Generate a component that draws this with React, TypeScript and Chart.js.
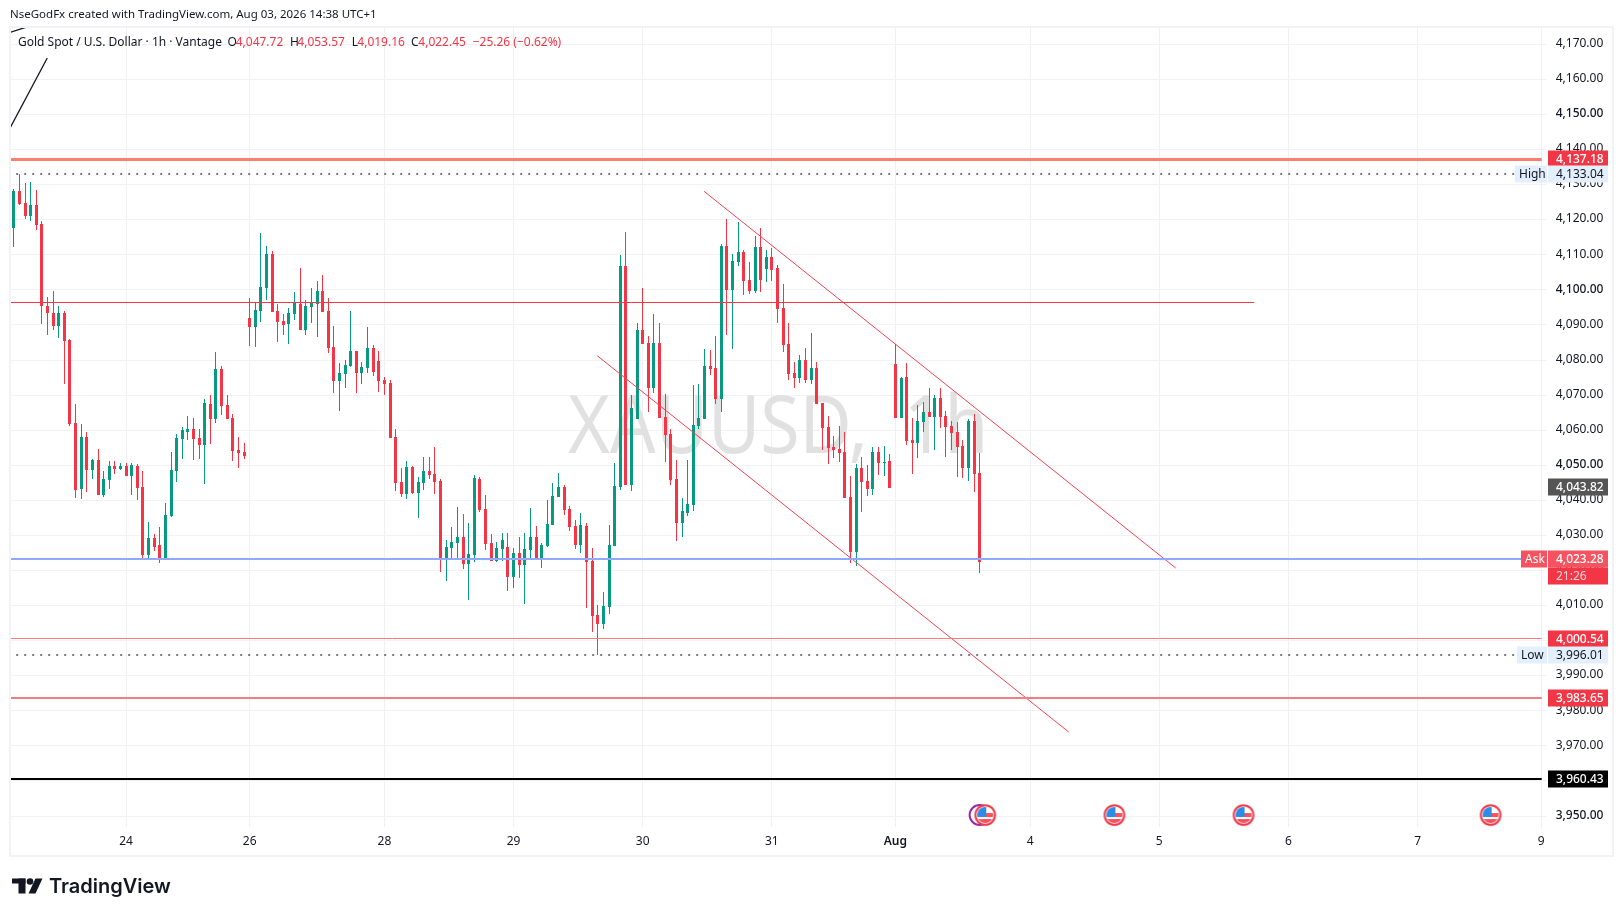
import React, { useEffect, useRef } from "react";
import { Chart, registerables } from "chart.js";

Chart.register(...registerables);

const opens = [
  4117.6,4128.2,4124.8,4121.1,4124.2,4118.8,4095.4,4093.4,4089.7,4093.4,
  4085.7,4062,4043.2,4058.1,4048.6,4051.5,4041.5,4045.8,4049.8,4048.9,
  4049.8,4047,4049.8,4043.8,4024.4,4029.3,4027.3,4023,4035.5,4048.4,
  4057.5,4059.5,4060.3,4057.8,4055.8,4067.5,4063.2,4077.4,4067.2,4063.5,
  4054.3,4053.8,4092,4089.4,4094,4100.5,4110.2,4094,4091.1,4090.3,
  4093.1,4096,4088.6,4095.1,4096,4099.7,4094,4083.7,4074,4076,
  4078.3,4082.6,4076.3,4077.7,4083.4,4079.7,4074.3,4073.4,4058.1,4045.2,
  4041.8,4049.5,4042.1,4044.9,4048.4,4047.5,4045.5,4023,4026.4,4027.8,
  4029.5,4021.8,4024.4,4046.1,4037.5,4027.8,4022.7,4026.1,4026.7,4018.1,
  4025,4021.6,4025.8,4029.5,4023.3,4027,4033,4040.9,4043.8,4037.5,
  4032.7,4027.3,4032.7,4022.7,4007.3,4004.7,4009.6,4027,4043.8,4106.8,
  4044.4,4063.2,4088.6,4084.8,4072,4084.8,4063.7,4058.9,4046.1,4033.5,
  4036.4,4038.7,4061.2,4063.2,4078.3,4077.7,4068.9,4112.5,4100,4108,
  4110.8,4102.8,4099.7,4112.2,4106,4109.4,4106.2,4094.8,4084.6,4076.3,
  4074.9,4080,4074.3,4077.7,4067.8,4060.9,4055.2,4054.6,4053.8,4041,
  4025.3,4049.2,4045.5,4043.2,4053.8,4050.7,4051.2,4078.9,4063.5,4075.2,
  4057.2,4056.4,4062.3,4065.2,4063.8,4069.2,4064,4061.2,4059.5,4055.5,
  4049.2,4062.6,4047.72,
];
const highs = [
  4128.7,4133.04,4130.5,4130.8,4128.5,4119.6,4098,4099.7,4095.4,4094,
  4086,4067.5,4061.8,4059.5,4051.8,4054.6,4048.4,4051.2,4051.2,4050.6,
  4050.6,4050.6,4050.3,4048.4,4033.8,4030.4,4032.4,4039.2,4053.8,4058.9,
  4060.9,4064,4063.5,4060.3,4068.9,4070,4082.3,4078.3,4070,4064.6,
  4058.1,4056.3,4097.7,4096.5,4116.2,4112.5,4111,4096,4093.1,4094.8,
  4099.4,4106.2,4097.1,4100.5,4102.5,4104.2,4097.7,4089.7,4079.1,4080,
  4094,4082.6,4079.4,4089.4,4084.3,4082.6,4075.2,4074.3,4060.3,4049.2,
  4051.2,4049.8,4046.6,4052.4,4052.4,4055.2,4046.1,4028.7,4032.4,4038.1,
  4036.1,4033.5,4047.2,4046.7,4041.5,4030.4,4028.1,4030.7,4030.7,4026.4,
  4029.5,4030.7,4037.8,4032.7,4027.8,4040.1,4044.9,4047.8,4044.4,4038.4,
  4034.4,4036.4,4033.5,4026.4,4010.2,4013.9,4033,4050.6,4109.9,4116.5,
  4070,4090.5,4100.5,4086.8,4093.1,4090.5,4070.3,4060.3,4051.5,4040.7,
  4051.5,4072.9,4073.2,4083.1,4082.8,4086.8,4113,4120.2,4110.2,4119.4,
  4111.4,4108,4115.4,4117.6,4111.4,4112,4107.1,4101.7,4090.6,4079.4,
  4081.4,4083.4,4087.7,4079.4,4067.8,4064,4058.3,4061.2,4059.5,4046.9,
  4050.4,4052.4,4050.1,4055.2,4055.2,4055.5,4053.2,4084.6,4075.2,4079.2,
  4063.5,4067.2,4068.1,4072,4070,4072,4065.5,4062.6,4062.3,4057.2,
  4063.2,4064.6,4053.57,
];
const lows = [
  4112.2,4124.2,4120.2,4119.6,4117.1,4090.3,4087.1,4088.6,4086.3,4073.2,
  4061.2,4040.7,4040.4,4042.4,4046.1,4041.5,4041,4043.2,4047.5,4048.6,
  4047,4041.5,4040.1,4023.3,4023.3,4025.6,4022.1,4023,4035.2,4045.2,
  4051.8,4057.2,4051.5,4051.8,4044.7,4056,4062,4064.3,4063.2,4051.2,
  4049.2,4051.8,4084,4083.7,4090.8,4097.1,4093.7,4085.1,4087.1,4084.6,
  4091.4,4088.6,4087.1,4090.5,4086.6,4093.7,4082,4070.6,4065.5,4072,
  4078,4070.6,4073.2,4076.3,4075.4,4070.9,4070,4057.8,4042.7,4040.9,
  4040.4,4041.8,4035,4043,4046.1,4041.8,4019.6,4017,4023.3,4023,
  4020.4,4011.6,4022.4,4036.7,4025.8,4022.7,4022.4,4022.7,4014.2,4015,
  4017.9,4010.4,4023.3,4023.3,4020.7,4026.7,4033,4040.9,4035.8,4031.2,
  4026.1,4025,4009.3,4002.5,3996.01,4003.3,4007.6,4027,4042.9,4044.4,
  4042.6,4063.2,4084.6,4065.2,4070.6,4063.5,4050.9,4044.4,4028.4,4029.5,
  4035.5,4037,4060.3,4063.2,4075.7,4067.4,4065.2,4087.1,4083.2,4106.8,
  4098.5,4098.8,4099.1,4099.4,4102.2,4102.5,4090.6,4082.3,4074.3,4072,
  4073.5,4073.5,4073.2,4067.5,4054.4,4050.4,4052.1,4050.9,4040.7,4022.1,
  4021.3,4036.7,4041.2,4041.5,4047.2,4046.9,4043.5,4063.5,4063.5,4055.8,
  4047.5,4052.1,4059.5,4063.8,4054.4,4060.6,4052.4,4054.4,4046.7,4046.4,
  4045.5,4042.4,4019.16,
];
const closes = [
  4128.2,4124.5,4121.1,4124.2,4118.5,4095.4,4093.4,4089.7,4093.4,4085.4,
  4061.8,4043,4058.1,4048.6,4051.5,4041.5,4046.1,4049.8,4048.9,4049.8,
  4047,4050.1,4043.5,4024.4,4029.3,4026.7,4023,4035.8,4048.6,4057.8,
  4060,4060.3,4057.5,4055.8,4067.7,4063.2,4077.4,4066.9,4063.2,4054.1,
  4053.5,4052.6,4089.4,4094.3,4100.8,4110.2,4093.7,4090.8,4090,4093.4,
  4096.4,4088.6,4095.4,4096.3,4099.7,4093.7,4083.4,4074,4076.3,4078.6,
  4082.6,4076.3,4078,4083.4,4076.6,4074,4073.2,4057.8,4044.9,4041.8,
  4049.5,4042.1,4045.2,4048.4,4047.2,4045.2,4023.3,4026.7,4028.1,4029.5,
  4021.8,4024.7,4046.4,4037.2,4027.6,4022.7,4026.4,4028.7,4018.1,4025,
  4021.6,4026.1,4029.5,4023.3,4027.3,4033.3,4041.2,4043.8,4037.2,4032.4,
  4027.3,4032.9,4022.4,4007,4004.7,4009.9,4027.3,4044.1,4106.8,4044.4,
  4066.3,4088.6,4084.6,4072,4084.8,4063.5,4058.6,4045.8,4033.5,4036.96,
  4039,4061.5,4063.5,4078.3,4077.4,4068.9,4112.5,4100,4108.2,4110.8,
  4102.5,4099.7,4112.2,4102.8,4109.4,4105.7,4094.6,4084.3,4076,4074.9,
  4080,4074.3,4077.7,4067.5,4060.6,4054.9,4054.4,4053.5,4040.7,4025.3,
  4049.2,4045.2,4043.2,4053.8,4050.7,4051,4043.5,4063.5,4074.9,4056.9,
  4056.4,4062.6,4065.2,4063.8,4069.2,4063.8,4060.9,4059.2,4055.2,4049.2,
  4062.6,4047.5,4022.45,
];

const dateTickIndex = [20, 42, 66, 89, 112, 135, 157, 181, 204, 227, 250, 272];
const dateTickLabels = ["24", "26", "28", "29", "30", "31", "Aug", "4", "5", "6", "7", "9"];
const priceTicks = [
  3950, 3960, 3970, 3980, 3990, 4000, 4010, 4020, 4030, 4040, 4050, 4060,
  4070, 4080, 4090, 4100, 4110, 4120, 4130, 4140, 4150, 4160, 4170,
];
const majorPrices = [3950, 4050, 4100, 4150];

const eventIndex = [173, 196, 219, 263];
const eventPrice = 3950.3;
const otherEventIndex = [172];

const resistanceLine = [{ x: -1, y: 4137.18 }, { x: 273, y: 4137.18 }];
const highLine = [{ x: -1, y: 4133.04 }, { x: 273, y: 4133.04 }];
const midLine = [{ x: -1, y: 4096.46 }, { x: 220.9, y: 4096.46 }];
const askLine = [{ x: -1, y: 4023.28 }, { x: 273, y: 4023.28 }];
const level4000 = [{ x: -1, y: 4000.54 }, { x: 273, y: 4000.54 }];
const lowLine = [{ x: -1, y: 3996.01 }, { x: 273, y: 3996.01 }];
const level3983 = [{ x: -1, y: 3983.65 }, { x: 273, y: 3983.65 }];
const level3960 = [{ x: -1, y: 3960.43 }, { x: 273, y: 3960.43 }];
const upperTrend = [{ x: 122.92, y: 4128.1 }, { x: 206.93, y: 4020.7 }];
const lowerTrend = [{ x: 103.92, y: 4081.2 }, { x: 187.87, y: 3973.96 }];
const blackSteep = [{ x: -0.68, y: 4146.1 }, { x: 5.96, y: 4166.1 }];
const blackShort = [{ x: -0.68, y: 4173.4 }, { x: 2.12, y: 4174.85 }];

const UP = "#089981";
const DOWN = "#f23645";
const FONT = '"Noto Sans"';

const fmt = (v: number) =>
  v.toLocaleString("en-US", { minimumFractionDigits: 2, maximumFractionDigits: 2 });

// price tags on the axis: price, text colour, background
const axisTags: [number, string, string][] = [
  [4137.18, "#ffffff", "#f23645"],
  [4133.04, "#131722", "#e3effd"],
  [4043.82, "#ffffff", "#555555"],
  [4023.28, "#ffffff", "#f7525f"],
  [4000.54, "#ffffff", "#f23645"],
  [3996.01, "#131722", "#e3effd"],
  [3983.65, "#ffffff", "#f23645"],
  [3960.43, "#ffffff", "#000000"],
];
const sideTags: [string, number, number, string, string][] = [
  ["High", 4133.04, 1515, "#131722", "#e3effd"],
  ["Ask", 4023.28, 1521, "#ffffff", "#f7525f"],
  ["Low", 3996.01, 1517, "#131722", "#e3effd"],
];
const countdown = "21:26";
const headerText = "NseGodFx created with TradingView.com, Aug 03, 2026 14:38 UTC+1";
const symbolText = "Gold Spot / U.S. Dollar · 1h · Vantage";
const legendParts: [string, number, string][] = [
  ["O", 227.5, "#131722"],
  ["4,047.72", 235.7, DOWN],
  ["H", 290, "#131722"],
  ["4,053.57", 297.3, DOWN],
  ["L", 351.7, "#131722"],
  ["4,019.16", 357.3, DOWN],
  ["C", 411, "#131722"],
  ["4,022.45", 418.3, DOWN],
  ["−25.26 (−0.62%)", 472.7, DOWN],
];

function makeFlag(): HTMLCanvasElement {
  const c = document.createElement("canvas");
  c.width = 24;
  c.height = 24;
  const g = c.getContext("2d")!;
  const m = 12;
  g.fillStyle = "#fff";
  g.beginPath();
  g.arc(m, m, 10, 0, Math.PI * 2);
  g.fill();
  g.save();
  g.beginPath();
  g.arc(m, m, 8, 0, Math.PI * 2);
  g.clip();
  g.fillStyle = "#f7525f";
  g.fillRect(m, m - 2, 10, 4);
  g.fillRect(0, m + 4, 24, 5);
  g.fillStyle = "#2a8de8";
  g.fillRect(m - 9, m - 9, 10, 11);
  g.restore();
  g.strokeStyle = DOWN;
  g.lineWidth = 2;
  g.beginPath();
  g.arc(m, m, 9.8, 0, Math.PI * 2);
  g.stroke();
  return c;
}

const snapPlugin = {
  id: "snap",
  afterDatasetsUpdate(chart: any) {
    chart.data.datasets.forEach((ds: any, idx: number) => {
      const meta = chart.getDatasetMeta(idx);
      if (ds.type === "bar") {
        meta.data.forEach((el: any) => {
          el.x = Math.floor(el.x) + 0.5;
          el.y = Math.round(el.y);
          el.base = Math.round(el.base);
          if (el.y === el.base) el.base += 1;
        });
      } else if (ds.snapWidth) {
        const w = ds.snapWidth;
        meta.data.forEach((el: any) => {
          el.y = Math.round(el.y - w / 2) + w / 2;
        });
      }
    });
  },
};

const fitText = (c: any, t: string, x: number, baseY: number, width: number) => {
  const w = c.measureText(t).width;
  c.save();
  c.translate(x, baseY);
  c.scale(width / w, 1);
  c.fillText(t, 0, 0);
  c.restore();
};

const paintPlugin = {
  id: "paint",
  beforeDraw(chart: any) {
    const c = chart.ctx;
    c.save();
    c.fillStyle = "#ffffff";
    c.fillRect(0, 0, chart.width, chart.height);
    c.restore();
  },
  beforeDatasetsDraw(chart: any) {
    const c = chart.ctx;
    c.save();
    c.font = `80px ${FONT}`;
    c.fillStyle = "#e1e1e1";
    c.textBaseline = "alphabetic";
    fitText(c, "XAUUSD,", 568, 453, 300);
    fitText(c, "1h", 904, 453, 84);
    c.restore();
  },
  afterDraw(chart: any) {
    const c = chart.ctx;
    const y = chart.scales.y;
    c.save();
    c.textBaseline = "middle";
    c.textAlign = "left";
    c.font = `12px ${FONT}`;

    axisTags.forEach(([p, fg, bg]) => {
      const py = Math.round(y.getPixelForValue(p));
      c.fillStyle = bg;
      c.fillRect(1548, py - 8.5, 60, 17);
      c.fillStyle = fg;
      c.font = `${fg === "#ffffff" ? 500 : 400} 12px ${FONT}`;
      c.fillText(fmt(p), 1556, py + 0.5);
    });
    const askY = Math.round(y.getPixelForValue(4023.28));
    c.fillStyle = DOWN;
    c.fillRect(1548, askY + 8.5, 60, 17);
    c.fillStyle = "#ffd5d9";
    c.font = `12px ${FONT}`;
    c.fillText(countdown, 1556, askY + 17.5);

    sideTags.forEach(([t, p, x, fg, bg]) => {
      const py = Math.round(y.getPixelForValue(p));
      c.fillStyle = bg;
      c.fillRect(x, py - 8.5, 1547 - x, 17);
      c.fillStyle = fg;
      c.fillText(t, x + 4, py + 0.5);
    });

    c.fillStyle = "#131722";
    c.font = `11.5px ${FONT}`;
    c.fillText(headerText, 10, 15);
    c.font = `12px ${FONT}`;
    c.fillText(symbolText, 18, 42.5);
    legendParts.forEach(([t, x, col]) => {
      c.fillStyle = col;
      c.fillText(t, x, 42.5);
    });

    c.strokeStyle = "#f2f3f6";
    c.lineWidth = 2;
    c.strokeRect(10, 27, 1603, 829);

    // TradingView wordmark
    c.fillStyle = "#131722";
    c.fillRect(12, 878.5, 13.5, 5);
    c.fillRect(18.5, 878.5, 7, 15);
    c.beginPath();
    c.arc(30, 881.5, 3.3, 0, Math.PI * 2);
    c.fill();
    c.beginPath();
    c.moveTo(35.5, 878.5);
    c.lineTo(42.5, 878.5);
    c.lineTo(35.5, 893.5);
    c.lineTo(28.5, 893.5);
    c.closePath();
    c.fill();
    c.font = `600 20px Inter`;
    c.fillText("TradingView", 49, 886.5);
    c.restore();
  },
};

export default function App() {
  const ref = useRef<HTMLCanvasElement>(null);
  useEffect(() => {
    document.body.style.margin = "0";
    const idx = opens.map((_, i) => i);
    const colors = idx.map((i) => (closes[i] >= opens[i] ? UP : DOWN));
    const line = (data: any[], color: string, width: number, snap = true, dash?: number[]) => ({
      type: "line",
      data,
      borderColor: color,
      borderWidth: width,
      borderDash: dash ?? [],
      pointRadius: 0,
      fill: false,
      tension: 0,
      order: 2,
      snapWidth: snap ? width : 0,
    });
    const flag = makeFlag();
    const chart = new Chart(ref.current!, {
      type: "bar",
      data: {
        datasets: [
          {
            type: "bar",
            data: idx.map((i) => ({ x: i, y: [lows[i], highs[i]] })),
            backgroundColor: colors,
            barThickness: 1,
            grouped: false,
            borderWidth: 0,
            inflateAmount: 0,
            order: 11,
          },
          {
            type: "bar",
            data: idx.map((i) => ({ x: i, y: [Math.min(opens[i], closes[i]), Math.max(opens[i], closes[i])] })),
            backgroundColor: colors,
            barThickness: 3,
            grouped: false,
            borderWidth: 0,
            inflateAmount: 0,
            order: 10,
          },
          line(highLine, "#787b86", 2, true, [2, 6]),
          line(lowLine, "#787b86", 2, true, [2, 6]),
          line(resistanceLine, "#fb7f6b", 3),
          line(midLine, DOWN, 1),
          line(askLine, "#90a9fb", 2),
          line(level4000, "#f77c80", 1),
          line(level3983, "#f77c80", 2),
          line(level3960, "#000000", 2),
          line(upperTrend, "#f4434f", 1, false),
          line(lowerTrend, "#f4434f", 1, false),
          line(blackSteep, "#131722", 1.3, false),
          line(blackShort, "#131722", 1.3, false),
          {
            type: "line",
            data: otherEventIndex.map((x) => ({ x, y: eventPrice })),
            showLine: false,
            pointStyle: "circle",
            pointRadius: 10,
            pointBorderColor: "#9c27b0",
            pointBackgroundColor: "#ffffff",
            pointBorderWidth: 2,
            order: 1,
          },
          {
            type: "line",
            data: eventIndex.map((x) => ({ x, y: eventPrice })),
            showLine: false,
            pointStyle: flag,
            pointRadius: 11,
            order: 0,
          },
        ],
      } as any,
      options: {
        responsive: false,
        animation: false,
        devicePixelRatio: 1,
        layout: { autoPadding: false, padding: { left: 10, right: 10, top: 26, bottom: 60 } },
        plugins: { legend: { display: false }, tooltip: { enabled: false } },
        scales: {
          x: {
            type: "linear",
            offset: false,
            min: -0.677,
            max: 272.1,
            afterFit: (s: any) => {
              s.height = 29;
              s.paddingLeft = 0;
              s.paddingRight = 0;
            },
            afterBuildTicks: (s: any) => {
              s.ticks = dateTickIndex.map((value) => ({ value }));
            },
            border: { display: false },
            grid: { color: "#f0f0f2", drawTicks: false, lineWidth: 1, offset: false },
            ticks: {
              autoSkip: false,
              maxRotation: 0,
              minRotation: 0,
              padding: 7,
              color: "#131722",
              font: (ctx: any) => ({
                family: FONT,
                size: 12,
                weight: ctx.tick && ctx.tick.value === 157 ? 600 : 400,
              }),
              callback: (v: any) => {
                const k = dateTickIndex.indexOf(v);
                return k >= 0 ? dateTickLabels[k] : "";
              },
            },
          },
          y: {
            type: "linear",
            position: "right",
            min: 3946.88,
            max: 4175.22,
            afterFit: (s: any) => {
              s.width = 71.3;
              s.paddingTop = 0;
              s.paddingBottom = 0;
            },
            afterBuildTicks: (s: any) => {
              s.ticks = priceTicks.map((value) => ({ value }));
            },
            border: { display: true, color: "#f0f0f2" },
            grid: { color: "#f2f2f4", tickColor: "#f2f2f4", tickLength: 5, lineWidth: 1 },
            ticks: {
              padding: 9,
              labelOffset: -0.7,
              color: "#131722",
              font: (ctx: any) => ({
                family: FONT,
                size: 12,
                weight: ctx.tick && majorPrices.includes(ctx.tick.value) ? 500 : 400,
              }),
              callback: (v: any) => fmt(v),
            },
          },
        },
      } as any,
      plugins: [snapPlugin, paintPlugin],
    } as any);
    return () => chart.destroy();
  }, []);
  return (
    <div style={{ position: "absolute", left: 0, top: 0, width: 1623, height: 916 }}>
      <canvas ref={ref} width={1623} height={916} style={{ display: "block", width: 1623, height: 916 }} />
    </div>
  );
}
